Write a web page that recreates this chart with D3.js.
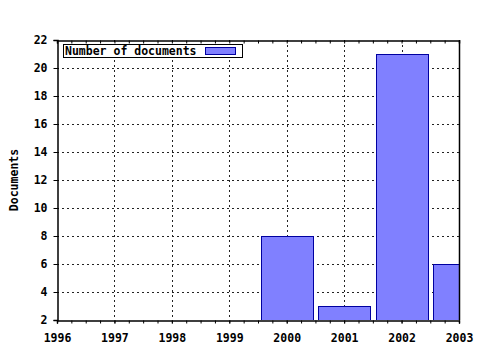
<!DOCTYPE html>
<html>
<head>
<meta charset="utf-8">
<script src="https://cdn.jsdelivr.net/npm/d3@7"></script>
<style>
  body { margin: 0; background: #fff; }
  text { font-family: "DejaVu Sans Mono", monospace; font-weight: bold; font-size: 11.5px; fill: #000; }
</style>
</head>
<body>
<script>
// data
var years = [2000, 2001, 2002, 2003];
var docs = [8, 3, 21, 6];
var xTicks = [1996, 1997, 1998, 1999, 2000, 2001, 2002, 2003];
var yTicks = [2, 4, 6, 8, 10, 12, 14, 16, 18, 20, 22];

var W = 480, H = 350;
var plotL = 57, plotR = 459, plotT = 40, plotB = 320;

var svg = d3.select('body').append('svg')
  .attr('width', W).attr('height', H);

var x = d3.scaleLinear().domain([1996, 2003]).range([plotL, plotR]);
var y = d3.scaleLinear().domain([2, 22]).range([plotB, plotT]);

// grid
svg.append('g').selectAll('line')
  .data(yTicks.slice(1, -1))
  .enter().append('line')
  .attr('x1', plotL).attr('x2', plotR)
  .attr('y1', function(d) { return y(d) + 0.5; })
  .attr('y2', function(d) { return y(d) + 0.5; })
  .attr('stroke', '#222').attr('stroke-dasharray', '2,3');

svg.append('g').selectAll('line')
  .data(xTicks.slice(1, -1))
  .enter().append('line')
  .attr('y1', plotT).attr('y2', plotB)
  .attr('x1', function(d) { return Math.round(x(d)) + 0.5; })
  .attr('x2', function(d) { return Math.round(x(d)) + 0.5; })
  .attr('stroke', '#222').attr('stroke-dasharray', '2,3');

// bars, clipped to the plot
svg.append('clipPath').attr('id', 'plot')
  .append('rect').attr('x', plotL).attr('y', plotT)
  .attr('width', plotR - plotL).attr('height', plotB - plotT);

var bw = (x(1997) - x(1996)) * 0.9;
svg.append('g').attr('clip-path', 'url(#plot)')
  .selectAll('rect')
  .data(years)
  .enter().append('rect')
  .attr('x', function(d) { return Math.round(x(d) - bw / 2) + 0.5; })
  .attr('y', function(d, i) { return Math.round(y(docs[i])) + 0.5; })
  .attr('width', Math.round(bw))
  .attr('height', function(d, i) { return Math.round(y(2) - y(docs[i])); })
  .attr('fill', '#8080ff').attr('stroke', '#0000a0');

// axes
var minor = d3.range(0, 29).map(function(i) { return 1996 + i / 4; });

var xMinor = svg.append('g').attr('transform', 'translate(0,' + (plotB + 0.5) + ')')
  .call(d3.axisBottom(x).tickValues(minor).tickSize(3).tickFormat(''));
xMinor.select('.domain').remove();
svg.append('g').attr('transform', 'translate(0,' + (plotB + 0.5) + ')')
  .call(d3.axisBottom(x).tickValues(xTicks).tickSize(3).tickPadding(10).tickFormat(d3.format('d')))
  .call(function(g) { g.select('.domain').attr('stroke-width', 1.5); });

var topAxis = svg.append('g').attr('transform', 'translate(0,' + (plotT + 0.5) + ')')
  .call(d3.axisBottom(x).tickValues(minor).tickSize(3).tickFormat(''));
topAxis.select('.domain').attr('stroke-width', 1.5);

svg.append('g').attr('transform', 'translate(' + (plotL + 0.5) + ',0)')
  .call(d3.axisLeft(y).tickValues(yTicks).tickSize(4).tickPadding(6).tickFormat(d3.format('d')))
  .call(function(g) { g.select('.domain').attr('stroke-width', 1.5); });

svg.append('line')
  .attr('x1', plotR + 0.5).attr('x2', plotR + 0.5)
  .attr('y1', plotT).attr('y2', plotB)
  .attr('stroke', '#000').attr('stroke-width', 1.5);

svg.selectAll('.tick text')
  .style('font-family', '"DejaVu Sans Mono", monospace')
  .style('font-weight', 'bold').style('font-size', '11.5px');

// y label
svg.append('text')
  .attr('transform', 'translate(18,' + ((plotT + plotB) / 2) + ') rotate(-90)')
  .attr('text-anchor', 'middle')
  .text('Documents');

// legend
var leg = svg.append('g');
leg.append('rect').attr('x', 63.5).attr('y', 44.5).attr('width', 179).attr('height', 13)
  .attr('fill', '#fff').attr('stroke', '#000');
leg.append('text').attr('x', 65).attr('y', 55).text('Number of documents');
leg.append('rect').attr('x', 205.5).attr('y', 47.5).attr('width', 30).attr('height', 7)
  .attr('fill', '#8080ff').attr('stroke', '#0000a0');
</script>
</body>
</html>
